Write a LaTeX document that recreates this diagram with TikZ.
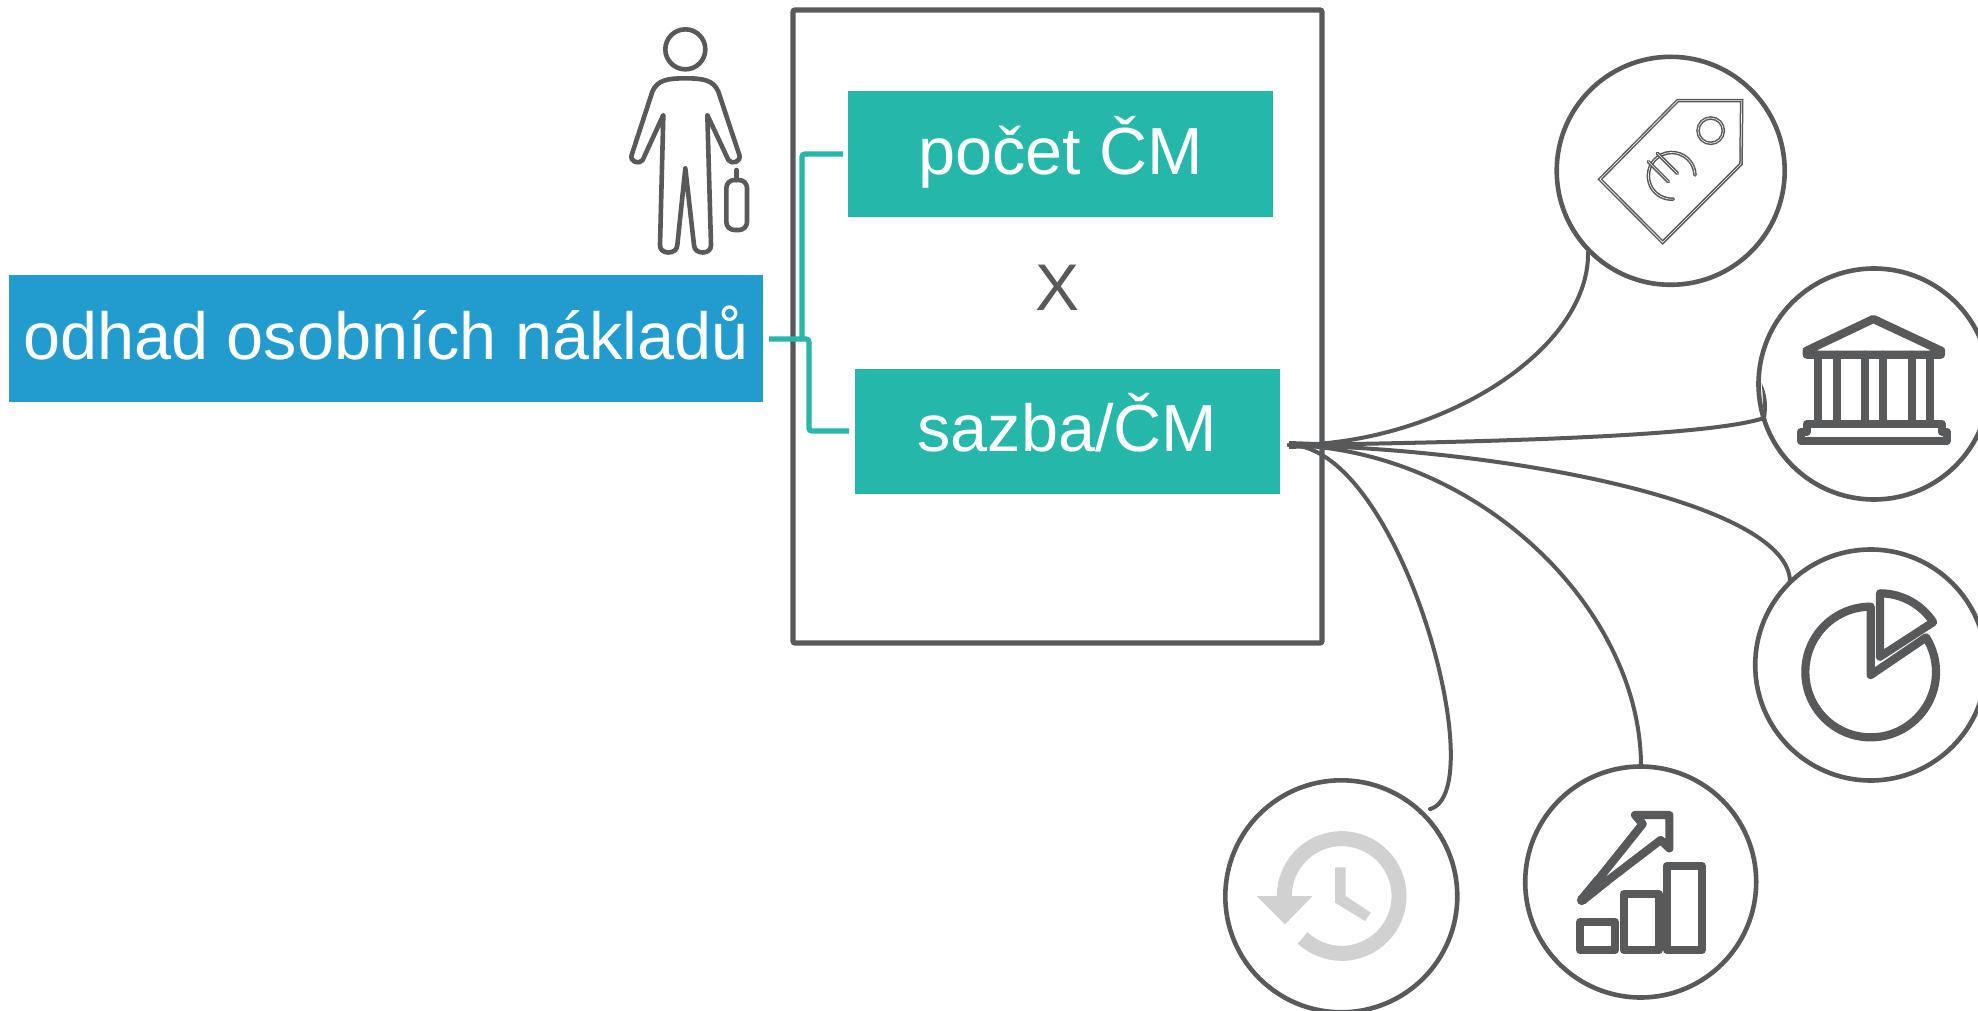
\documentclass[tikz,border=0pt]{standalone}
\usepackage{fontspec}
\setmainfont{Liberation Sans}
\definecolor{ink}{HTML}{58595B}
\definecolor{teal}{HTML}{26B7AB}
\definecolor{bluebox}{HTML}{229BCF}
\definecolor{clockgray}{HTML}{D1D1D1}
\tikzset{
  x=0.5pt,y=-0.5pt,
  bigbox/.style={rectangle,inner sep=0pt,text=white,font=\fontsize{33.3}{40}\selectfont,text height=24pt,text depth=3.8pt},
  link/.style={draw=ink,line width=2pt,line cap=round},
  tealline/.style={draw=teal,line width=2.7pt,rounded corners=1.5pt},
  ring/.style={circle,draw=ink,line width=2.3pt,inner sep=0pt,fill=white},
  thin ink/.style={draw=ink,line width=2.3pt,line join=round,line cap=round},
  thick ink/.style={draw=ink,line width=4.1pt,line join=round,line cap=round},
  dbl/.style={draw=ink,line width=0.75pt,double=white,double distance=0.3pt,line join=miter},
  zoomed/.style={x=0.16667pt,y=-0.16667pt},
}
\begin{document}
\begin{tikzpicture}
\useasboundingbox (0,0) rectangle (1978,1011);
% frame
\node[rectangle,draw=ink,line width=2.6pt,inner sep=0pt,minimum width=264.5pt,minimum height=316.5pt,rounded corners=1pt] (frame) at (1057.5,326.5) {};
% boxes
\node[bigbox,fill=bluebox,minimum width=377pt,minimum height=63.5pt] (cost) at (386,338.8) {odhad osobních nákladů\hspace{3pt}};
\node[bigbox,fill=teal,minimum width=212.5pt,minimum height=63pt] (count) at (1060.5,154) {počet ČM};
\node[bigbox,fill=teal,minimum width=212.5pt,minimum height=62.5pt] (rate) at (1067.5,431.5) {sazba/ČM};
\node[text=ink,inner sep=0pt,font=\fontsize{33}{40}\selectfont] (times) at (1058,287.5) {X};
% teal connectors
\coordinate (tealL) at (769,339);
\coordinate (tealJ) at (802,339);
\coordinate (tealT) at (843,154);
\coordinate (tealB) at (849,431);
\draw[tealline] (tealL) -- (809,339) -- (809,431) -- (tealB);
\draw[tealline] (tealJ) -- (802,154) -- (tealT);
% rings
\node[ring,minimum size=114pt] (tag) at (1670.7,170.8) {};
\node[ring,minimum size=115.5pt] (bank) at (1874,384) {};
\node[ring,minimum size=115.5pt] (pie) at (1870.7,665) {};
\node[ring,minimum size=115.5pt] (chart) at (1640.7,882) {};
\node[ring,minimum size=116pt] (clock) at (1341.3,896.3) {};
% curves
\coordinate (hub) at (1289,445);
\coordinate (e1) at (1588,252);
\coordinate (e2) at (1764,418);
\coordinate (e2b) at (1761.7,383);
\coordinate (e3) at (1790,582);
\coordinate (e4) at (1641,766);
\coordinate (e5) at (1430,809);
\fill[ink] (hub) ++(0,-4) -- ++(55,2) -- ++(0,4) -- ++(-55,2) -- cycle;
\draw[link] (hub) .. controls (1440,445) and (1590,350) .. (e1);
\draw[link] (hub) .. controls (1500,442) and (1710,436) .. (e2);
\fill[ink] (e2b) .. controls (1767,395) and (1768,405) .. (1766,418) -- (e2) .. controls (1763,410) and (1763,395) .. (e2b) -- cycle;
\draw[link] (hub) .. controls (1520,450) and (1790,505) .. (e3);
\draw[link] (hub) .. controls (1480,450) and (1641,610) .. (e4);
\draw[link] (hub) .. controls (1400,445) and (1494,792) .. (e5);
% person
\begin{scope}[shift={(600,0)},zoomed]
\draw[thin ink] (256,148) circle[radius=60];
\draw[thin ink] (190,345) -- (180,735) .. controls (178,765) and (232,765) .. (232,735) -- (256,505) -- (282,735) .. controls (282,765) and (335,765) .. (333,735) -- (322,345) -- (385,480) .. controls (395,495) and (425,485) .. (418,465) -- (355,275) .. controls (340,240) and (310,235) .. (256,235) .. controls (202,235) and (172,240) .. (157,275) -- (95,465) .. controls (88,485) and (118,495) .. (128,480) -- cycle;
\draw[thin ink,rounded corners=4pt] (379,540) rectangle (441,690);
\draw[thin ink] (410,510) -- (410,540);
\end{scope}
% tag icon
\begin{scope}[shift={(1540,40)},zoomed]
\draw[dbl] (413,182) -- (605,182) -- (603,372) -- (368,607) -- (180,418) -- cycle;
\draw[dbl] (512,272) circle[radius=38];
\draw[dbl,line cap=round] (465,405) arc[start angle=-2,end angle=-274,radius=70];
\draw[dbl,line cap=round] (325,365) -- (385,425);
\draw[dbl,line cap=round] (352,340) -- (412,400);
\end{scope}
% bank icon
\begin{scope}[shift={(1740,260)},zoomed]
\draw[thick ink] (200,272) -- (400,177) -- (603,272) -- (603,284) -- (200,284) -- cycle;
\foreach \cx in {235,290,375,430,515,570} \draw[thick ink] (\cx,284) -- (\cx,490);
\draw[thick ink] (200,492) -- (605,492) -- (605,515) -- (620,515) -- (620,543) -- (183,543) -- (183,515) -- (200,515) -- cycle;
\end{scope}
% pie icon
\begin{scope}[shift={(1740,540)},zoomed]
\draw[thick ink] (392,405) -- (392,200) arc[start angle=-90,end angle=-392,radius=196] -- cycle;
\draw[thick ink] (420,350) -- (420,160) arc[start angle=-90,end angle=-33,radius=190] -- cycle;
\end{scope}
% chart icon
\begin{scope}[shift={(1510,760)},zoomed]
\draw[thick ink] (211,486) rectangle (314,570);
\draw[thick ink] (341,402) rectangle (447,570);
\draw[thick ink] (470,318) rectangle (575,570);
\draw[thick ink] (214,422) -- (398,192) -- (375,165) -- (478,165) -- (478,265) -- (452,240) -- cycle;
\fill[ink] (216,420) circle[radius=15];
\fill[ink] (204,411) -- (255,350) -- (262,380) -- (300,372) -- (225,432) -- cycle;
\end{scope}
% clock icon
\begin{scope}[shift={(1210,770)},zoomed]
\draw[draw=clockgray,line width=7.5pt] (223,378) arc[start angle=180,end angle=493,radius=172];
\fill[clockgray] (140,378) -- (308,378) -- (225,463) -- cycle;
\fill[clockgray] (375,292) -- (407,292) -- (407,378) -- (482,428) -- (465,453) -- (375,398) -- cycle;
\end{scope}
\end{tikzpicture}
\end{document}
